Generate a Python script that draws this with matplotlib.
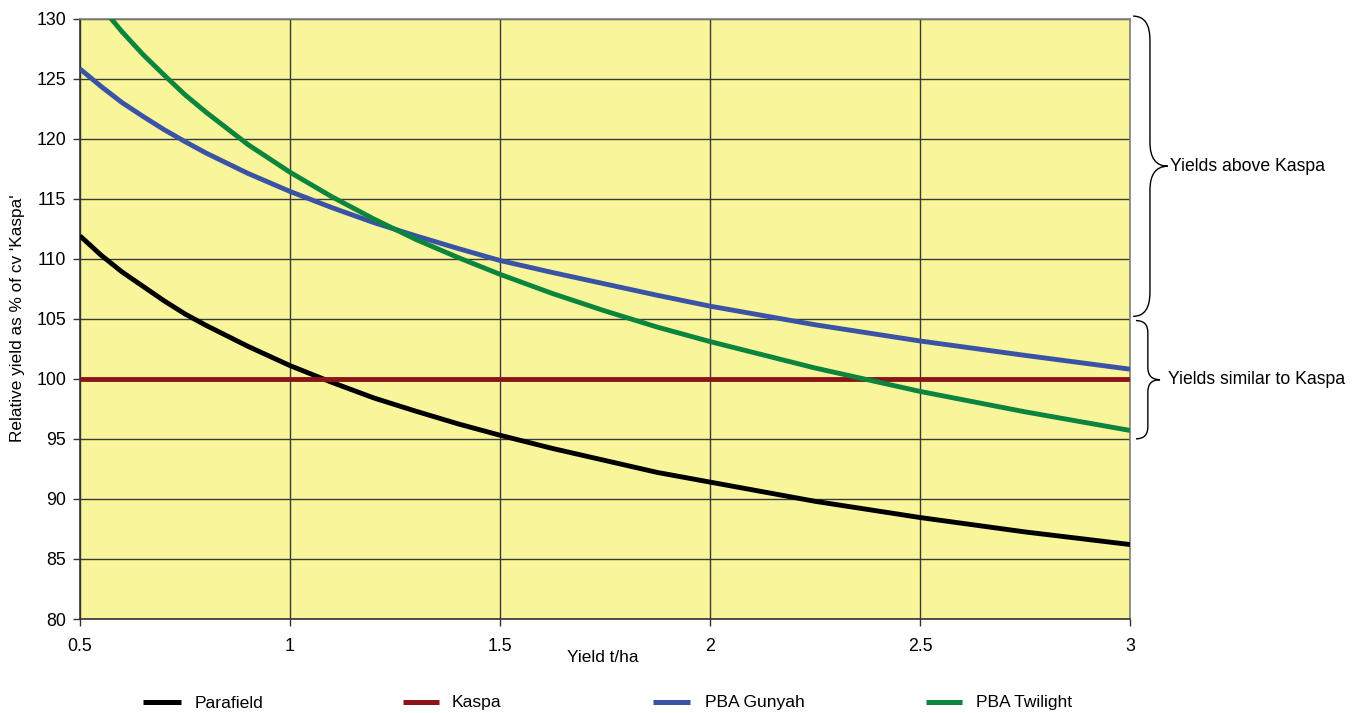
import matplotlib
matplotlib.use("Agg")
import matplotlib.pyplot as plt
from matplotlib.path import Path
from matplotlib.patches import PathPatch
from matplotlib.transforms import blended_transform_factory
from matplotlib.lines import Line2D

plt.rcParams['font.family'] = ['Liberation Sans', 'DejaVu Sans']

# Data
yield_tha = [0.5, 0.55, 0.6, 0.65, 0.7, 0.75, 0.8, 0.9, 1.0, 1.1, 1.2, 1.3, 1.4, 1.5,
             1.625, 1.75, 1.875, 2.0, 2.25, 2.5, 2.75, 3.0]
parafield = [111.9, 110.3, 108.9, 107.7, 106.5, 105.4, 104.45, 102.7, 101.1, 99.7, 98.4,
             97.3, 96.25, 95.3, 94.2, 93.2, 92.2, 91.4, 89.8, 88.45, 87.25, 86.2]
kaspa = [100] * len(yield_tha)
gunyah = [125.8, 124.35, 123.0, 121.85, 120.75, 119.75, 118.8, 117.1, 115.6, 114.25, 113.0,
          111.9, 110.85, 109.85, 108.85, 107.9, 106.95, 106.05, 104.5, 103.15, 101.95, 100.8]
twilight = [133.4, 131.0, 128.9, 127.0, 125.3, 123.65, 122.2, 119.5, 117.2, 115.15, 113.3,
            111.6, 110.1, 108.7, 107.1, 105.65, 104.3, 103.1, 100.9, 98.95, 97.25, 95.7]

series_names = ["Parafield", "Kaspa", "PBA Gunyah", "PBA Twilight"]
series_colors = ["#000000", "#8B1418", "#3A53A4", "#0B843D"]
series_values = [parafield, kaspa, gunyah, twilight]

x_ticks = [0.5, 1, 1.5, 2, 2.5, 3]
x_tick_labels = ["0.5", "1", "1.5", "2", "2.5", "3"]
y_ticks = list(range(80, 131, 5))

brace_labels = ["Yields above Kaspa", "Yields similar to Kaspa"]

W, H = 1365, 713
fig = plt.figure(figsize=(W / 100, H / 100), dpi=100)
ax = fig.add_axes([80 / W, 1 - 619 / H, 1050 / W, (619 - 18.5) / H])
ax.set_facecolor("#F8F59B")

for name, col, vals in zip(series_names, series_colors, series_values):
    ax.plot(yield_tha, vals, color=col, lw=3.5, solid_capstyle='butt',
            solid_joinstyle='round', label=name, zorder=3)

ax.set_xlim(0.5, 3)
ax.set_ylim(80, 130)
ax.set_xticks(x_ticks)
ax.set_xticklabels(x_tick_labels)
ax.set_yticks(y_ticks)
ax.tick_params(axis='both', direction='out', length=5, width=1, color='#333333',
               labelsize=12.8)
ax.tick_params(axis='x', pad=9)
ax.tick_params(axis='y', pad=5)
ax.grid(True, color='#3a3a3a', lw=1.0, zorder=1)
ax.set_axisbelow(True)
for s in ax.spines.values():
    s.set_color('#808080')
    s.set_linewidth(1.2)
ax.spines['left'].set_color('#333333')
ax.spines['bottom'].set_color('#333333')

fig.text(603 / W, 1 - 657 / H, "Yield t/ha", fontsize=12.4, ha='center', va='center')
fig.text(18 / W, 1 - 318 / H, "Relative yield as % of cv 'Kaspa'", fontsize=12.4,
         ha='center', va='center', rotation=90)

# Braces
tr = blended_transform_factory(ax.transAxes, ax.transData)

def brace(x0, xv, xtip, ytop, ybot, r):
    ymid = (ytop + ybot) / 2
    verts = [(x0, ytop), (xv, ytop), (xv, ytop - r),
             (xv, ymid + r), (xv, ymid), (xtip, ymid),
             (xv, ymid), (xv, ymid - r),
             (xv, ybot + r), (xv, ybot), (x0, ybot)]
    codes = [Path.MOVETO, Path.CURVE3, Path.CURVE3,
             Path.LINETO, Path.CURVE3, Path.CURVE3,
             Path.CURVE3, Path.CURVE3,
             Path.LINETO, Path.CURVE3, Path.CURVE3]
    p = PathPatch(Path(verts, codes), transform=tr, fill=False, lw=1.0,
                  edgecolor='black', clip_on=False)
    ax.add_patch(p)
    return ymid

m1 = brace(1.003, 1.019, 1.036, 130.2, 105.2, 2.0)
m2 = brace(1.0057, 1.017, 1.0286, 104.85, 95.0, 1.0)
ax.text(1.038, m1, brace_labels[0], transform=tr, fontsize=12.7, va='center', ha='left')
ax.text(1.0365, m2, brace_labels[1], transform=tr, fontsize=12.7, va='center', ha='left')

# Legend (Excel-style, placed in figure pixels)
legend_line_px = [(143, 181), (403, 439), (653, 690), (926, 962)]
legend_text_px = [195, 452, 705, 976]
for (x0, x1), tx, col, name in zip(legend_line_px, legend_text_px, series_colors, series_names):
    fig.add_artist(Line2D([x0 / W, x1 / W], [1 - 701.5 / H, 1 - 701.5 / H],
                          color=col, lw=3.6, solid_capstyle='butt',
                          transform=fig.transFigure))
    fig.text(tx / W, 1 - 703 / H, name, fontsize=12.6, ha='left', va='center')

fig.savefig("out.png", dpi=100)
